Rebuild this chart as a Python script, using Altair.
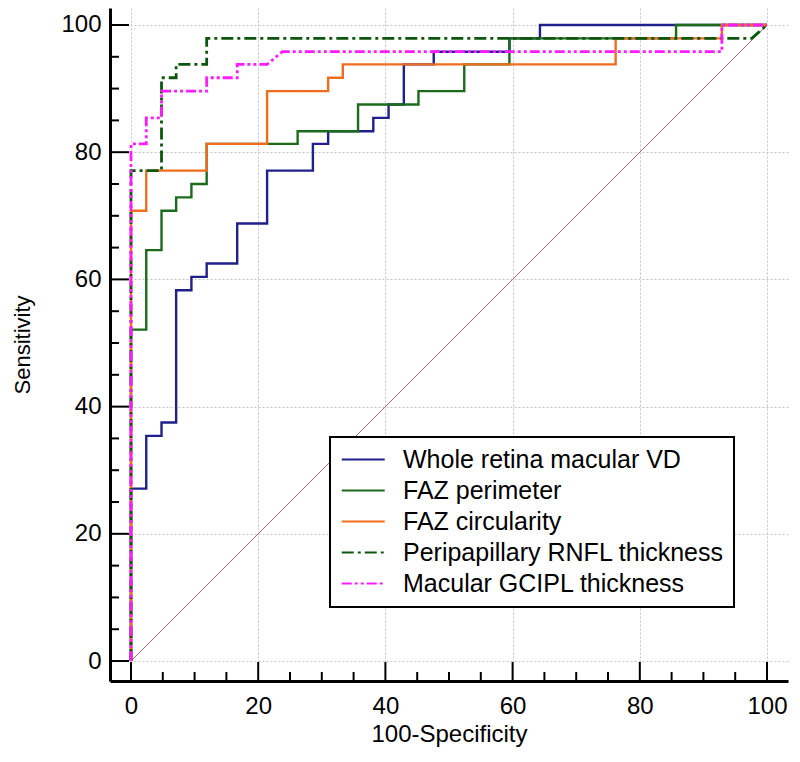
import altair as alt
import pandas as pd

FONT = "Liberation Sans"

series_names = [
    "Whole retina macular VD",
    "FAZ perimeter",
    "FAZ circularity",
    "Peripapillary RNFL thickness",
    "Macular GCIPL thickness",
]
series_colors = ["#20208c", "#1b6b1b", "#f26c1e", "#0d560d", "#ff1aff"]
series_dashes = [[1, 0], [1, 0], [1, 0], [12, 4, 3, 4], [10, 3, 3, 3, 3, 3]]

# ROC vertices (100-Specificity, Sensitivity)
vd_x = [0, 0, 2.4, 2.4, 4.8, 4.8, 7.1, 7.1, 9.5, 9.5, 11.9, 11.9, 16.7, 16.7, 21.4, 21.4,
        28.6, 28.6, 31.0, 31.0, 38.1, 38.1, 40.5, 40.5, 42.9, 42.9, 47.6, 47.6, 59.5, 59.5,
        64.3, 64.3, 100]
vd_y = [0, 27.1, 27.1, 35.4, 35.4, 37.5, 37.5, 58.3, 58.3, 60.4, 60.4, 62.5, 62.5, 68.8, 68.8,
        77.1, 77.1, 81.3, 81.3, 83.3, 83.3, 85.4, 85.4, 87.5, 87.5, 93.8, 93.8, 95.8, 95.8,
        97.9, 97.9, 100, 100]

per_x = [0, 0, 2.4, 2.4, 4.8, 4.8, 7.1, 7.1, 9.5, 9.5, 11.9, 11.9, 26.2, 26.2, 35.7, 35.7,
         45.2, 45.2, 52.4, 52.4, 59.5, 59.5, 85.7, 85.7, 100]
per_y = [0, 52.1, 52.1, 64.6, 64.6, 70.8, 70.8, 72.9, 72.9, 75.0, 75.0, 81.3, 81.3, 83.3, 83.3,
         87.5, 87.5, 89.6, 89.6, 93.8, 93.8, 97.9, 97.9, 100, 100]

circ_x = [0, 0, 2.4, 2.4, 11.9, 11.9, 21.4, 21.4, 31.0, 31.0, 33.3, 33.3, 76.2, 76.2, 92.9, 92.9, 100]
circ_y = [0, 70.8, 70.8, 77.1, 77.1, 81.3, 81.3, 89.6, 89.6, 91.7, 91.7, 93.8, 93.8, 97.9, 97.9, 100, 100]

rnfl_x = [0, 0, 4.8, 4.8, 7.1, 7.1, 11.9, 11.9, 97.6, 100]
rnfl_y = [0, 77.1, 77.1, 91.7, 91.7, 93.8, 93.8, 97.9, 97.9, 100]

gcipl_x = [0, 0, 2.4, 2.4, 4.8, 4.8, 11.9, 11.9, 16.7, 16.7, 21.4, 23.8, 92.9, 92.9, 100]
gcipl_y = [0, 81.3, 81.3, 85.4, 85.4, 89.6, 89.6, 91.7, 91.7, 93.8, 93.8, 95.8, 95.8, 100, 100]

diag_vals = [0, 100]
tick_major = [0, 20, 40, 60, 80, 100]
tick_minor = [5, 10, 15, 25, 30, 35, 45, 50, 55, 65, 70, 75, 85, 90, 95]

curves = [
    (series_names[0], vd_x, vd_y, 2.4),
    (series_names[1], per_x, per_y, 2.4),
    (series_names[2], circ_x, circ_y, 2.4),
    (series_names[3], rnfl_x, rnfl_y, 2.8),
    (series_names[4], gcipl_x, gcipl_y, 2.8),
]

W, H = 678, 673
x_scale = alt.Scale(domain=[-3.3, 103.3], nice=False, zero=False)
y_scale = alt.Scale(domain=[-3.14, 102.67], nice=False, zero=False)

common_axis = dict(
    values=tick_major, grid=True, gridColor="#c4c4c4", gridDash=[2, 2], gridWidth=1,
    ticks=False, domainColor="black", domainWidth=3,
    labelFont=FONT, labelFontSize=24, labelColor="black",
    titleFont=FONT, titleFontWeight="normal", titleColor="black",
)
x_axis = alt.Axis(title="100-Specificity", labelPadding=13, titlePadding=4, titleFontSize=24, **common_axis)
y_axis = alt.Axis(title="Sensitivity", labelPadding=9, titlePadding=26, titleFontSize=22, **common_axis)

legend = alt.Legend(
    title=None, orient="none", legendX=220, legendY=429,
    strokeColor="black", fillColor="white", padding=10,
    symbolType="M-1,0H3", symbolSize=462, symbolStrokeWidth=2,
    labelFont=FONT, labelFontSize=25, labelColor="black", labelOffset=38,
    labelLimit=0, rowPadding=5,
)
color_enc = alt.Color("series:N", scale=alt.Scale(domain=series_names, range=series_colors), legend=legend)
dash_enc = alt.StrokeDash("series:N", scale=alt.Scale(domain=series_names, range=series_dashes), legend=legend)

diag_df = pd.DataFrame({"fpr": diag_vals, "tpr": diag_vals})
diag = alt.Chart(diag_df).mark_line(color="#b06868", strokeWidth=1).encode(
    x=alt.X("fpr:Q", scale=x_scale, axis=x_axis),
    y=alt.Y("tpr:Q", scale=y_scale, axis=y_axis),
)

layers = [diag]
for name, xs, ys, sw in curves:
    df = pd.DataFrame({"series": name, "fpr": xs, "tpr": ys, "order": list(range(len(xs)))})
    layers.append(
        alt.Chart(df).mark_line(strokeWidth=sw, strokeCap="butt").encode(
            x=alt.X("fpr:Q", scale=x_scale, axis=x_axis),
            y=alt.Y("tpr:Q", scale=y_scale, axis=y_axis),
            order="order:Q",
            color=color_enc,
            strokeDash=dash_enc,
        )
    )

maj_df = pd.DataFrame({"v": tick_major})
min_df = pd.DataFrame({"v": tick_minor})
for tdf, ln in [(maj_df, 19), (min_df, 9)]:
    layers.append(
        alt.Chart(tdf).mark_rule(color="black", strokeWidth=2).encode(
            x=alt.X("v:Q", scale=x_scale, axis=x_axis),
            y=alt.value(H), y2=alt.value(H - ln),
        )
    )
    layers.append(
        alt.Chart(tdf).mark_rule(color="black", strokeWidth=2).encode(
            y=alt.Y("v:Q", scale=y_scale, axis=y_axis),
            x=alt.value(0), x2=alt.value(ln),
        )
    )

chart = alt.layer(*layers).properties(
    width=W, height=H,
    autosize=alt.AutoSizeParams(type="none"),
    padding={"left": 102, "top": 0, "right": 4, "bottom": 73},
    background="white",
).configure_view(stroke=None).configure_legend(strokeWidth=2)

chart.save("out.html", embed_options={"renderer": "svg", "actions": False})
